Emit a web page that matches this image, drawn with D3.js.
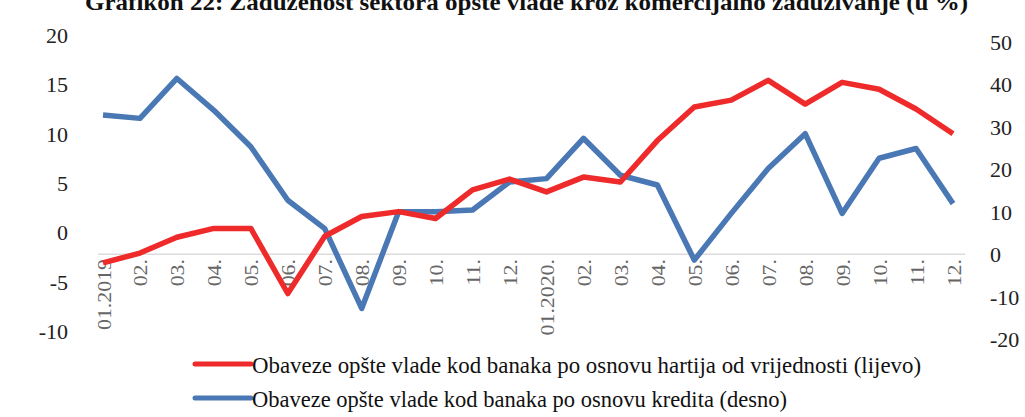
<!DOCTYPE html>
<html><head><meta charset="utf-8">
<script src="https://cdn.jsdelivr.net/npm/d3@7"></script>
<style>body{margin:0;background:#fff}svg{display:block}</style>
</head><body>
<svg id="c" width="1025" height="417"></svg>
<script>
const categories = ["01.2019","02.","03.","04.","05.","06.","07.","08.","09.","10.","11.","12.",
  "01.2020.","02.","03.","04.","05.","06.","07.","08.","09.","10.","11.","12."];
const securities = [-3.1,-2.1,-0.5,0.4,0.4,-6.2,-0.4,1.6,2.1,1.4,4.3,5.4,
  4.1,5.6,5.1,9.3,12.7,13.4,15.4,13.0,15.2,14.5,12.5,10.0];
const loans = [32.8,32.0,41.4,33.9,25.3,12.7,6.0,-12.8,10.0,10.0,10.4,17.0,
  17.8,27.3,18.6,16.3,-1.4,9.6,20.2,28.4,9.6,22.6,24.9,11.9];
const leftTicks = [-10,-5,0,5,10,15,20];
const rightTicks = [-20,-10,0,10,20,30,40,50];
const title = "Grafikon 22: Zaduženost sektora opšte vlade kroz komercijalno zaduživanje (u %)";
const legendLabels = ["Obaveze opšte vlade kod banaka po osnovu hartija od vrijednosti (lijevo)",
  "Obaveze opšte vlade kod banaka po osnovu kredita (desno)"];

const RED = "#ee2a2a", BLUE = "#4a78b4";
const FONT = "'Liberation Serif','Times New Roman',serif";
const svg = d3.select("#c");
const keys = categories.map((c,i)=>i);
const x = d3.scalePoint().domain(keys).range([103, 953]);
const yL = d3.scaleLinear().domain([-10,20]).range([331,35]);
const yR = d3.scaleLinear().domain([-20,50]).range([339,42]);
const fmt = v => String(v);

// title (clipped at top as in the source)
svg.append("text").attr("x",85).attr("y",10).attr("font-family",FONT)
  .attr("font-weight","bold").attr("font-size",24).attr("fill","#111")
  .attr("textLength",883).attr("lengthAdjust","spacingAndGlyphs").text(title);

// category axis line
svg.append("line").attr("x1",98).attr("x2",965).attr("y1",yR(0)).attr("y2",yR(0))
  .attr("stroke","#dcdcdc").attr("stroke-width",1.5);

// left axis
const axL = d3.axisLeft(yL).tickValues(leftTicks).tickFormat(fmt).tickSize(0).tickPadding(0);
const gL = svg.append("g").attr("transform","translate(68,0)").call(axL);
gL.select(".domain").remove();
gL.selectAll("text").attr("font-family",FONT).attr("font-size",22).attr("fill","#222").attr("dy","0.34em");

// right axis
const axR = d3.axisRight(yR).tickValues(rightTicks).tickFormat(fmt).tickSize(0).tickPadding(0);
const gR = svg.append("g").attr("transform","translate(990,0)").call(axR);
gR.select(".domain").remove();
gR.selectAll("text").attr("font-family",FONT).attr("font-size",22).attr("fill","#222").attr("dy","0.34em");

// x labels
const axX = d3.axisBottom(x).tickSize(0).tickFormat(i=>categories[i]);
const gX = svg.append("g").attr("transform","translate(0,259)").call(axX);
gX.select(".domain").remove();
gX.selectAll(".tick text").attr("font-family",FONT).attr("font-size",19).attr("fill","#666")
  .attr("text-anchor","end").attr("dy",null).attr("y",0)
  .attr("transform","translate(7,0) rotate(-90) scale(1.15,1)");

// lines
const lineL = d3.line().x((d,i)=>x(i)).y(d=>yL(d));
const lineR = d3.line().x((d,i)=>x(i)).y(d=>yR(d));
svg.append("path").datum(loans).attr("d",lineR).attr("fill","none")
  .attr("stroke",BLUE).attr("stroke-width",5.5).attr("stroke-linejoin","round");
svg.append("path").datum(securities).attr("d",lineL).attr("fill","none")
  .attr("stroke",RED).attr("stroke-width",5.5).attr("stroke-linejoin","round");

// legend
const lg = [{c:RED,y:364,len:669},{c:BLUE,y:398,len:535}];
lg.forEach((d,i)=>{
  svg.append("line").attr("x1",195).attr("x2",251).attr("y1",d.y).attr("y2",d.y)
    .attr("stroke",d.c).attr("stroke-width",5).attr("stroke-linecap","round");
  svg.append("text").attr("x",252).attr("y",d.y+8.5).attr("font-family",FONT)
    .attr("font-size",24).attr("fill","#111")
    .attr("textLength",d.len).attr("lengthAdjust","spacingAndGlyphs").text(legendLabels[i]);
});
</script>
</body></html>
